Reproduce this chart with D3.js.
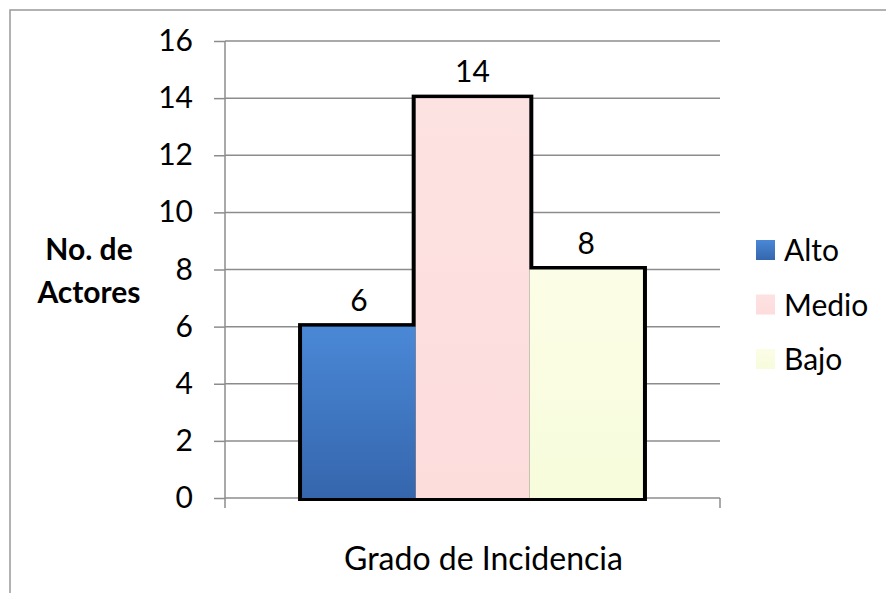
<!DOCTYPE html>
<html>
<head>
<meta charset="utf-8">
<script src="https://cdn.jsdelivr.net/npm/d3@7"></script>
<style>
  body { margin: 0; background: #fff; }
  svg text { font-family: Lato, "Open Sans", sans-serif; fill: #000; }
</style>
</head>
<body>
<div id="chart"></div>
<script>
// Data
var categories = ["Grado de Incidencia"];
var series = ["Alto", "Medio", "Bajo"];
var values = [6, 14, 8];
var yTicks = [0, 2, 4, 6, 8, 10, 12, 14, 16];

var width = 886,
    height = 593;

var svg = d3.select("#chart")
    .append("svg")
    .attr("width", width)
    .attr("height", height);

// outer chart border (runs off the right and bottom of the picture)
svg.append("rect")
    .attr("x", 10).attr("y", 10)
    .attr("width", width).attr("height", height)
    .attr("fill", "none")
    .attr("stroke", "#999")
    .attr("stroke-width", 1.5);

var plot = { left: 225, right: 720, top: 41, bottom: 498 };

var y = d3.scaleLinear()
    .domain([0, 16])
    .range([plot.bottom, plot.top]);

var x0 = d3.scaleBand()
    .domain(categories)
    .range([plot.left, plot.right])
    .paddingOuter(0.226);

var x1 = d3.scaleBand()
    .domain(series)
    .range([0, x0.bandwidth()]);

// gradients for the bar fills
var defs = svg.append("defs");
var fills = {
    Alto: ["#4a88d6", "#3566ad"],
    Medio: ["#fde2e2", "#fddcdc"],
    Bajo: ["#fcfde6", "#f7fcdc"]
};
series.forEach(function(s) {
    var g = defs.append("linearGradient")
        .attr("id", "grad-" + s)
        .attr("x1", 0).attr("y1", 0).attr("x2", 0).attr("y2", 1);
    g.append("stop").attr("offset", "0%").attr("stop-color", fills[s][0]);
    g.append("stop").attr("offset", "100%").attr("stop-color", fills[s][1]);
});

// gridlines
svg.append("g")
    .selectAll("line")
    .data(yTicks)
    .enter()
    .append("line")
    .attr("x1", plot.left)
    .attr("x2", plot.right)
    .attr("y1", function(d) { return y(d); })
    .attr("y2", function(d) { return y(d); })
    .attr("stroke", "#8c8c8c")
    .attr("stroke-width", 1.5);

// y axis
var yAxis = svg.append("g")
    .attr("transform", "translate(" + plot.left + ",0)")
    .call(d3.axisLeft(y).tickValues(yTicks).tickSize(11).tickPadding(21));
yAxis.select(".domain").remove();
yAxis.selectAll(".tick line").attr("stroke", "#8c8c8c").attr("stroke-width", 1.5);
yAxis.selectAll(".tick text")
    .style("font-size", "30px")
    .attr("fill", "#000");

svg.append("line")
    .attr("x1", plot.left).attr("x2", plot.left)
    .attr("y1", plot.top).attr("y2", plot.bottom + 10)
    .attr("stroke", "#8c8c8c").attr("stroke-width", 1.5);

// x axis end tick
svg.append("line")
    .attr("x1", plot.right).attr("x2", plot.right)
    .attr("y1", plot.bottom).attr("y2", plot.bottom + 10)
    .attr("stroke", "#8c8c8c").attr("stroke-width", 1.5);

var rows = series.map(function(s, i) { return { key: s, value: values[i], cat: categories[0] }; });

// black shadow behind the bars
svg.append("g")
    .selectAll("rect")
    .data(rows)
    .enter()
    .append("rect")
    .attr("x", function(d) { return x0(d.cat) + x1(d.key) - 4; })
    .attr("y", function(d) { return y(d.value) - 3.5; })
    .attr("width", x1.bandwidth() + 8)
    .attr("height", function(d) { return plot.bottom - y(d.value) + 6.5; })
    .attr("fill", "#000");

// bars
svg.append("g")
    .selectAll("rect")
    .data(rows)
    .enter()
    .append("rect")
    .attr("x", function(d) { return x0(d.cat) + x1(d.key); })
    .attr("y", function(d) { return y(d.value); })
    .attr("width", x1.bandwidth())
    .attr("height", function(d) { return plot.bottom - y(d.value); })
    .attr("fill", function(d) { return "url(#grad-" + d.key + ")"; });

// value labels
svg.append("g")
    .selectAll("text")
    .data(rows)
    .enter()
    .append("text")
    .attr("x", function(d) { return x0(d.cat) + x1(d.key) + x1.bandwidth() / 2; })
    .attr("y", function(d) { return y(d.value) - 16; })
    .attr("text-anchor", "middle")
    .style("font-size", "30px")
    .text(function(d) { return d.value; });

// axis titles
svg.append("text")
    .attr("x", x0(categories[0]) + x0.bandwidth() / 2 + 11)
    .attr("y", 570)
    .attr("text-anchor", "middle")
    .style("font-size", "32px")
    .text(categories[0]);

var yTitle = svg.append("text")
    .attr("text-anchor", "middle")
    .style("font-size", "30px")
    .style("font-weight", "bold");
yTitle.append("tspan").attr("x", 89).attr("y", 260).text("No. de");
yTitle.append("tspan").attr("x", 89).attr("y", 303).text("Actores");

// legend
var legend = svg.append("g")
    .selectAll("g")
    .data(rows)
    .enter()
    .append("g")
    .attr("transform", function(d, i) { return "translate(756," + (250 + i * 54.5) + ")"; });

legend.append("rect")
    .attr("x", 0).attr("y", -10)
    .attr("width", 19).attr("height", 20)
    .attr("fill", function(d) { return "url(#grad-" + d.key + ")"; });

legend.append("text")
    .attr("x", 28)
    .attr("y", 11)
    .style("font-size", "30px")
    .text(function(d) { return d.key; });
</script>
</body>
</html>
